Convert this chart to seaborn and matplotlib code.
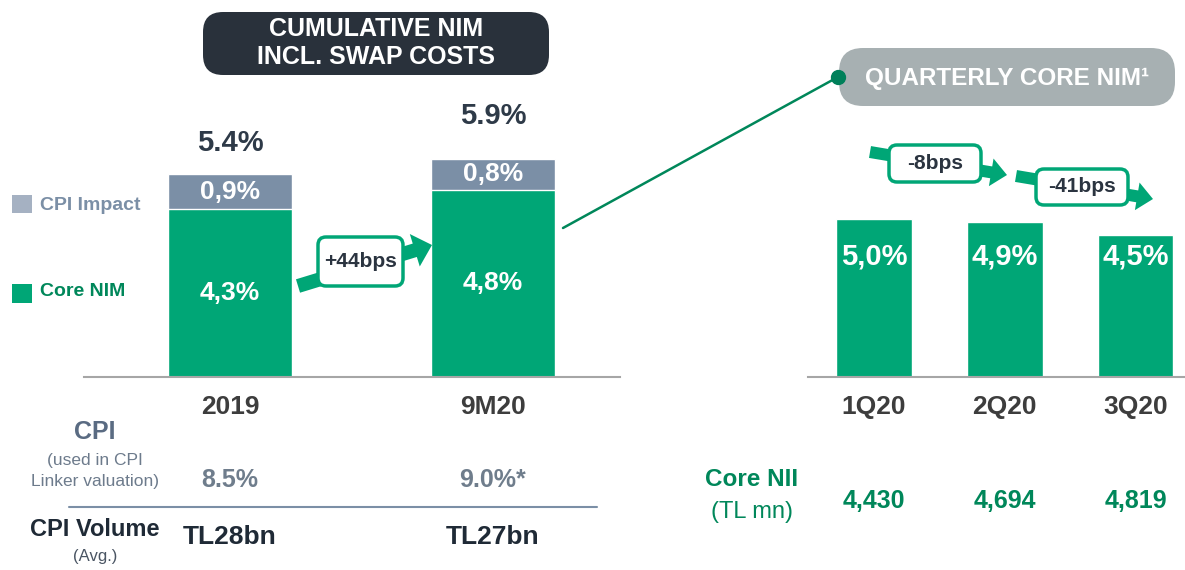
import numpy as np
import matplotlib
matplotlib.use("Agg")
import matplotlib.pyplot as plt
import matplotlib.transforms as mtransforms
from matplotlib.patches import FancyBboxPatch, FancyArrow, Rectangle
import seaborn as sns
import pandas as pd

# data
periods = ['2019', '9M20']
core_nim = [4.3, 4.8]
cpi_impact = [0.9, 0.8]
total_nim = [5.4, 5.9]
nim_change_bps = 44
cpi_rate = ['8.5%', '9.0%*']
cpi_volume = ['TL28bn', 'TL27bn']

quarters = ['1Q20', '2Q20', '3Q20']
quarterly_core_nim = [5.0, 4.9, 4.5]
quarterly_change_bps = [-8, -41]
core_nii = [4430, 4694, 4819]

GREEN = '#00a676'
DARK_GREEN = '#00875a'
SLATE = '#7b8fa6'
LIGHT_SLATE = '#a5b1c2'
DARK = '#2b3440'

sns.set_style('white')
plt.rcParams['font.family'] = ['Liberation Sans', 'DejaVu Sans']

W, H = 1185, 570
fig = plt.figure(figsize=(W / 100, H / 100), dpi=100)


def px_axes(x0, y0, x1, y1):
    return fig.add_axes([x0 / W, 1 - y1 / H, (x1 - x0) / W, (y1 - y0) / H])


def pct(v):
    return f"{v:.1f}".replace('.', ',') + '%'


df_left = pd.DataFrame({'period': periods, 'core': core_nim, 'cpi': cpi_impact})
df_left['stack'] = df_left['core'] + df_left['cpi']
df_right = pd.DataFrame({'quarter': quarters, 'nim': quarterly_core_nim})

# ---- left chart: cumulative NIM (stacked)
axl = px_axes(84, 90, 620, 377)
sns.barplot(data=df_left, x='period', y='stack', color=SLATE, width=0.475,
            saturation=1, ax=axl)
sns.barplot(data=df_left, x='period', y='core', color=GREEN, width=0.475,
            saturation=1, ax=axl)
axl.set_xlim(-0.555, 1.483)
axl.set_ylim(0, 287 / 39)
for i, row in df_left.iterrows():
    axl.text(i, row['core'] / 2, pct(row['core']), ha='center', va='center',
             color='white', fontsize=19, fontweight='bold')
    axl.text(i, row['core'] + row['cpi'] / 2, pct(row['cpi']), ha='center',
             va='center', color='white', fontsize=19, fontweight='bold')

# ---- right chart: quarterly core NIM
axr = px_axes(808, 100, 1185, 377)
sns.barplot(data=df_right, x='quarter', y='nim', color=GREEN, width=0.58,
            saturation=1, ax=axr)
axr.set_xlim(-0.504, 2.378)
axr.set_ylim(0, 277 / 31.6)
for i, v in enumerate(quarterly_core_nim):
    axr.text(i, 3.8, pct(v), ha='center', va='center', color='white',
             fontsize=21, fontweight='bold')

for ax in (axl, axr):
    for s in ('top', 'right', 'left'):
        ax.spines[s].set_visible(False)
    ax.spines['bottom'].set_color('#a6a6a6')
    ax.spines['bottom'].set_linewidth(1.5)
    ax.set_yticks([])
    ax.set_xlabel('')
    ax.set_ylabel('')
    ax.tick_params(axis='x', length=0, pad=13, labelsize=19, labelcolor='#3d3d3d')
    for lab in ax.get_xticklabels():
        lab.set_fontweight('bold')
    ax.patch.set_alpha(0)

# ---- overlay for boxes, arrows and table text (1 unit = 1 px)
ov = fig.add_axes([0, 0, 1, 1])
ov.set_xlim(0, W)
ov.set_ylim(H, 0)
ov.axis('off')
ov.set_zorder(5)

lx = mtransforms.blended_transform_factory(axl.transData, ov.transData)
rx = mtransforms.blended_transform_factory(axr.transData, ov.transData)

# title boxes
ov.add_patch(FancyBboxPatch((215, 24), 322, 39, boxstyle='round,pad=12,rounding_size=20',
                            fc='#29313b', ec='none'))
ov.text(376, 43, 'CUMULATIVE NIM\nINCL. SWAP COSTS', ha='center', va='center',
        color='white', fontsize=18, fontweight='bold', linespacing=1.2)
ov.add_patch(FancyBboxPatch((851, 60), 312, 34, boxstyle='round,pad=12,rounding_size=24',
                            fc='#a7b0b2', ec='none'))
ov.text(1007, 78, 'QUARTERLY CORE NIM¹', ha='center', va='center',
        color='white', fontsize=17.5, fontweight='bold')

# connector line to the quarterly box
ov.plot([563, 838], [228, 77], color=DARK_GREEN, lw=1.8, solid_capstyle='round')
ov.plot([838], [77], 'o', color='#00805a', ms=10)

# total NIM labels
for i, v in enumerate(total_nim):
    ov.text(i, [143, 116][i], f"{v:.1f}%", transform=lx, ha='center', va='center',
            color='#2e3a48', fontsize=21, fontweight='bold')

# legend
ov.add_patch(Rectangle((12, 195), 20, 18, fc=LIGHT_SLATE, ec='none'))
ov.text(40, 205, 'CPI Impact', va='center', color=SLATE, fontsize=14, fontweight='bold')
ov.add_patch(Rectangle((12, 284), 20, 19, fc=GREEN, ec='none'))
ov.text(40, 292, 'Core NIM', va='center', color=DARK_GREEN, fontsize=14, fontweight='bold')


def change_arrow(x0, y0, x1, y1, box, label, tail=14, head=34, hl=18, fs=15):
    ov.add_patch(FancyArrow(x0, y0, x1 - x0, y1 - y0, width=tail, head_width=head,
                            head_length=hl, length_includes_head=True,
                            fc=GREEN, ec='none'))
    bx0, by0, bx1, by1 = box
    ov.add_patch(FancyBboxPatch((bx0, by0), bx1 - bx0, by1 - by0,
                                boxstyle='round,pad=0,rounding_size=8',
                                fc='white', ec=GREEN, lw=2.5))
    ov.text((bx0 + bx1) / 2, (by0 + by1) / 2, label, ha='center', va='center',
            color=DARK, fontsize=fs, fontweight='bold')


change_arrow(298, 286, 432, 245, (318, 237, 403, 286), f"+{nim_change_bps}bps")
change_arrow(870, 152, 1007, 175, (889, 145, 981, 182), f"{quarterly_change_bps[0]}bps",
             tail=12, head=28, hl=16)
change_arrow(1016, 176, 1153, 199, (1036, 169, 1128, 205), f"{quarterly_change_bps[1]}bps",
             tail=12, head=28, hl=16)

# left table
ov.text(95, 432, 'CPI', ha='center', va='center', color='#5a6b82',
        fontsize=18, fontweight='bold')
ov.text(95, 471, '(used in CPI\nLinker valuation)', ha='center', va='center',
        color='#6d7b8c', fontsize=12.5, linespacing=1.5)
ov.plot([69, 597], [507, 507], color=SLATE, lw=1.5)
ov.text(95, 530, 'CPI Volume', ha='center', va='center', color='#1f2a36',
        fontsize=17, fontweight='bold')
ov.text(95, 557, '(Avg.)', ha='center', va='center', color='#4a5563', fontsize=12)
for i in range(len(periods)):
    ov.text(i, 480, cpi_rate[i], transform=lx, ha='center', va='center',
            color='#6f7d8c', fontsize=18, fontweight='bold')
    ov.text(i, 537, cpi_volume[i], transform=lx, ha='center', va='center',
            color='#1f2a36', fontsize=19, fontweight='bold')

# right table
ov.text(752, 480, 'Core NII', ha='center', va='center', color=DARK_GREEN,
        fontsize=17.5, fontweight='bold')
ov.text(752, 512, '(TL mn)', ha='center', va='center', color=DARK_GREEN, fontsize=17)
for i, v in enumerate(core_nii):
    ov.text(i, 501, f"{v:,}", transform=rx, ha='center', va='center',
            color=DARK_GREEN, fontsize=18, fontweight='bold')

fig.savefig('out.png', dpi=100)
